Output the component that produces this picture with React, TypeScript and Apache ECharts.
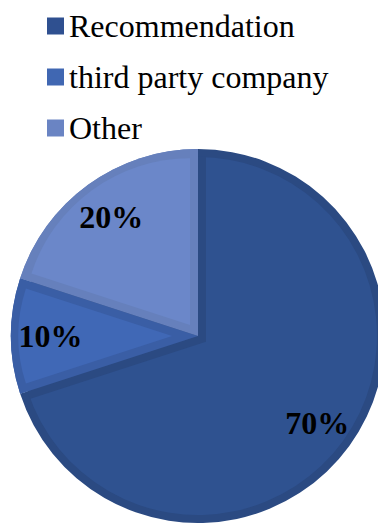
import React, { useEffect, useRef } from "react";
import * as echarts from "echarts";

const CATEGORIES = ["Recommendation", "third party company", "Other"];
const VALUES = [70, 10, 20];
const FILL_COLORS = ["#2F5290", "#4068B6", "#6B87C9"];
const BAND_COLORS = ["#2B4A82", "#3A5EA5", "#6680BC"];
const LEGEND_COLORS = ["#2F5090", "#4067B2", "#6A84C3"];

const CX = 198;
const CY = 336;
const R = 187;
const BAND = 8;
const TRANSPARENT = "rgba(0,0,0,0)";
const FONT = "Liberation Serif";

function pieLayer(
  center: number[],
  radius: any,
  colors: (string | null)[],
  z: number,
  vals: number[] = VALUES,
  names: string[] = CATEGORIES
) {
  return {
    type: "pie",
    center,
    radius,
    startAngle: 90,
    clockwise: true,
    silent: true,
    z,
    avoidLabelOverlap: false,
    label: { show: false },
    labelLine: { show: false },
    emphasis: { disabled: true },
    itemStyle: { borderWidth: 0 },
    data: vals.map((v, i) => ({
      value: v,
      name: names[i],
      itemStyle: { color: colors[i] ?? TRANSPARENT, borderWidth: 0 },
    })),
  };
}

export default function App() {
  const ref = useRef<HTMLDivElement>(null);

  useEffect(() => {
    document.body.style.margin = "0";
    if (!ref.current) return;
    const chart = echarts.init(ref.current, undefined, { renderer: "svg" });

    const total = VALUES.reduce((a, b) => a + b, 0);
    const deg = Math.PI / 180;
    const starts: number[] = [];
    const ends: number[] = [];
    let acc = 0;
    VALUES.forEach((v) => {
      starts.push((acc / total) * 360);
      acc += v;
      ends.push((acc / total) * 360);
    });

    const inset = (i: number) => {
      const h = (ends[i] - starts[i]) / 2;
      const bis = starts[i] + h;
      const d = BAND / Math.sin(h * deg);
      const c = [CX + d * Math.sin(bis * deg), CY - d * Math.cos(bis * deg)];
      const r = R - BAND - (d * (1 + Math.cos(h * deg))) / 2;
      return { c, r };
    };

    const uh = (360 - ends[0]) / 2;
    const ubis = ends[0] + uh;
    const ud = BAND / Math.sin(uh * deg);
    const uc = [CX - ud * Math.sin(ubis * deg), CY + ud * Math.cos(ubis * deg)];
    const ur = R - BAND + ud * Math.cos(uh * deg) + 0.5;
    const restVals = [VALUES[0], VALUES.slice(1).reduce((a, b) => a + b, 0)];

    const in1 = inset(1);
    const in2 = inset(2);

    const series: any[] = [
      pieLayer([CX, CY], R, BAND_COLORS, 1),
      pieLayer([CX, CY], R - BAND, [FILL_COLORS[0], null, null], 2),
      pieLayer(uc, ur, [null, BAND_COLORS[0]], 3, restVals, [CATEGORIES[0], "_rest"]),
      pieLayer([CX, CY], R, [null, BAND_COLORS[1], BAND_COLORS[2]], 4),
      pieLayer(in1.c, in1.r, [null, FILL_COLORS[1], null], 5),
      pieLayer(in2.c, in2.r, [null, null, FILL_COLORS[2]], 6),
    ];

    const labelLayer: any = pieLayer([CX, CY], [102, R], [null, null, null], 10);
    labelLayer.label = {
      show: true,
      position: "inside",
      formatter: "{d}%",
      fontFamily: FONT,
      fontSize: 32,
      fontWeight: "bold",
      color: "#000",
    };
    series.push(labelLayer);

    chart.setOption({
      animation: false,
      backgroundColor: "#ffffff",
      legend: {
        orient: "vertical",
        left: 42,
        top: 4,
        icon: "rect",
        itemWidth: 17,
        itemHeight: 17,
        itemGap: 17,
        selectedMode: false,
        textStyle: {
          fontFamily: FONT,
          fontSize: 32,
          lineHeight: 34,
          color: "#000",
        },
        data: CATEGORIES.map((n, i) => ({
          name: n,
          itemStyle: { color: LEGEND_COLORS[i] },
        })),
      },
      series,
    });

    return () => chart.dispose();
  }, []);

  return <div ref={ref} style={{ width: 378, height: 523 }} />;
}
